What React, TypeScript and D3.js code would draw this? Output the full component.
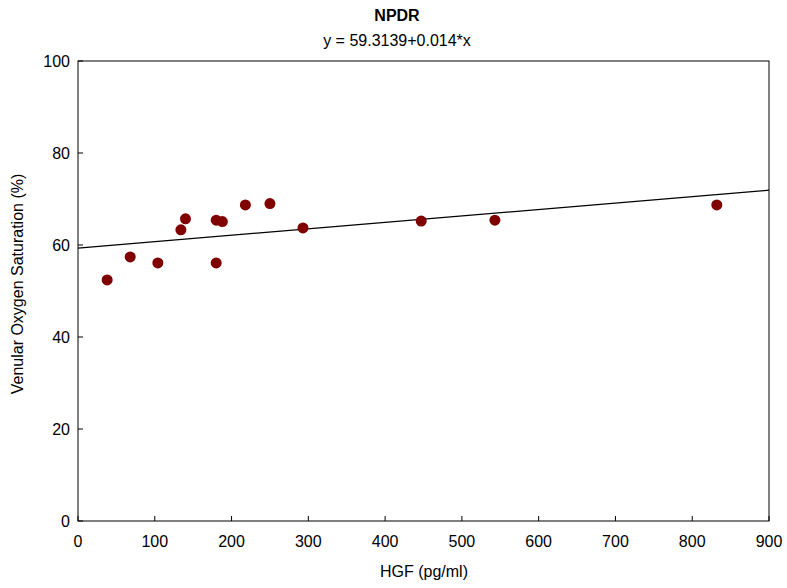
import React from "react";
import * as d3 from "d3";

const hgf = [38, 68, 104, 134, 140, 180, 188, 180, 218, 250, 293, 447, 543, 832];
const saturation = [52.4, 57.4, 56.1, 63.3, 65.7, 65.4, 65.1, 56.1, 68.7, 69.0, 63.7, 65.2, 65.4, 68.7];
const xTicks = [0, 100, 200, 300, 400, 500, 600, 700, 800, 900];
const yTicks = [0, 20, 40, 60, 80, 100];
const intercept = 59.3139;
const slope = 0.014;

const W = 787;
const H = 588;
const left = 78;
const right = 769;
const top = 61;
const bottom = 521;
const font = "'Liberation Sans', Arial, sans-serif";

export default function App() {
  const x = d3.scaleLinear().domain([0, 900]).range([left, right]);
  const y = d3.scaleLinear().domain([0, 100]).range([bottom, top]);
  const fit = d3
    .line<number>()
    .x((d) => x(d))
    .y((d) => y(intercept + slope * d));

  return (
    <svg
      width={W}
      height={H}
      style={{ position: "absolute", left: 0, top: 0, background: "#fff" }}
      fontFamily={font}
    >
      <text x={397} y={21} textAnchor="middle" fontSize={16} fontWeight="bold">
        NPDR
      </text>
      <text x={397} y={46} textAnchor="middle" fontSize={16}>
        y = 59.3139+0.014*x
      </text>

      <rect x={left} y={top} width={right - left} height={bottom - top} fill="none" stroke="#000" strokeWidth={1} />

      {xTicks.map((t) => (
        <g key={"x" + t}>
          <line x1={x(t)} x2={x(t)} y1={bottom} y2={bottom - 5} stroke="#000" />
          <text x={x(t)} y={547} textAnchor="middle" fontSize={16}>
            {t}
          </text>
        </g>
      ))}
      {yTicks.map((t) => (
        <g key={"y" + t}>
          <line x1={left} x2={left + 5} y1={y(t)} y2={y(t)} stroke="#000" />
          <text x={70} y={y(t) + 6} textAnchor="end" fontSize={16}>
            {t}
          </text>
        </g>
      ))}

      <path d={fit([0, 900]) || ""} fill="none" stroke="#000" strokeWidth={1.2} />

      {hgf.map((v, i) => (
        <circle key={i} cx={x(v)} cy={y(saturation[i])} r={5.5} fill="#800000" />
      ))}

      <text x={424} y={577} textAnchor="middle" fontSize={16}>
        HGF (pg/ml)
      </text>
      <text
        transform={`translate(23, 284) rotate(-90)`}
        textAnchor="middle"
        fontSize={16}
      >
        Venular Oxygen Saturation (%)
      </text>
    </svg>
  );
}
